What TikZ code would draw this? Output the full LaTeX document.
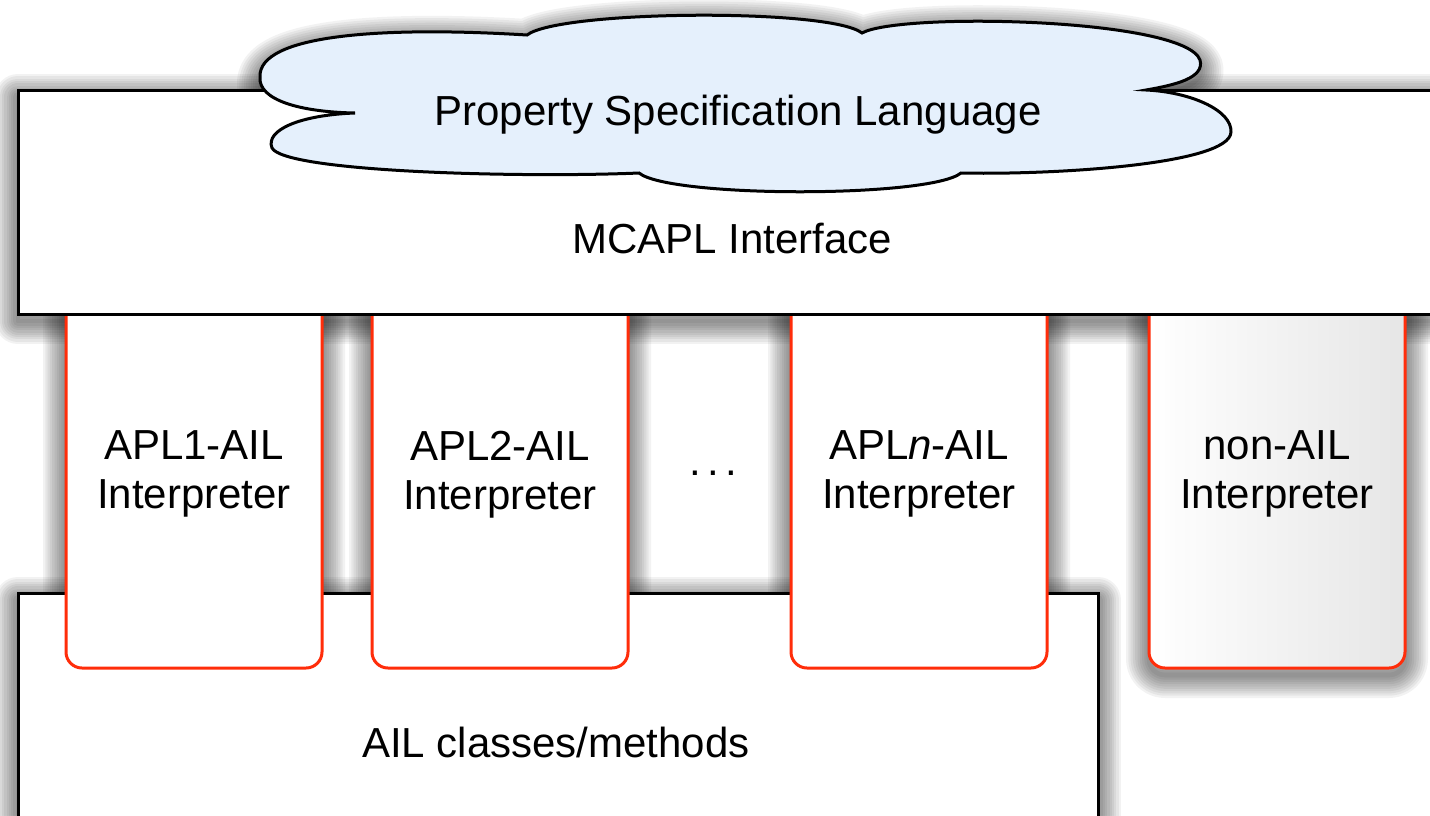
\documentclass[tikz,border=0pt]{standalone}
\usepackage{fontspec}
\setmainfont{Liberation Sans}
\definecolor{interpred}{RGB}{255,45,10}
\definecolor{cloudfill}{RGB}{229,240,252}
\definecolor{shadegray}{RGB}{230,230,230}
\pgfdeclarelayer{paper}
\pgfdeclarelayer{shadows}
\pgfsetlayers{paper,shadows,main}
% outline of the cloud, used for its shadow and for the cloud itself
\def\cloudoutline{%
  (527,35) .. controls (560,10) and (830,8) .. (862,33)
  .. controls (900,12) and (1185,18) .. (1200,60)
  .. controls (1205,78) and (1175,85) .. (1146,90)
  .. controls (1190,92) and (1232,110) .. (1231,132)
  .. controls (1230,165) and (1050,175) .. (961,173)
  .. controls (930,198) and (670,198) .. (639,173)
  .. controls (520,178) and (285,172) .. (272,148)
  .. controls (265,130) and (300,115) .. (355,113)
  .. controls (300,112) and (258,100) .. (260,77)
  .. controls (258,35) and (380,26) .. (527,35) -- cycle}
\begin{document}
\begin{tikzpicture}[x=1pt,y=-1pt,
  every node/.style={inner sep=0pt, outer sep=0pt},
  txt/.style={font=\fontsize{42}{49}\selectfont, text=black},
  shadowstep/.style={draw=black, draw opacity=0.05, line join=round,
      line width=#1},
  layer/.style={draw=black, line width=3pt, fill=white, anchor=north west},
  interp/.style={draw=interpred, line width=3pt, fill=white, rounded corners=16pt,
      minimum width=256pt, minimum height=378pt, anchor=north west}]

% page frame
\useasboundingbox (0,0) rectangle (1430,815);
\begin{pgfonlayer}{paper}
  \fill[white] (0,0) rectangle (1430,815);
\end{pgfonlayer}

% bottom layer
\node[layer, minimum width=1080pt, minimum height=260pt] (ail) at (18,593) {};

% interpreter columns
\node[interp] (i1) at (66,290) {};
\node[interp] (i2) at (372,290) {};
\node[interp] (i3) at (791,290) {};
\node[interp, left color=white, right color=shadegray] (i4) at (1149,290) {};

% top layer
\node[layer, minimum width=1440pt, minimum height=224pt] (mcapl) at (18,90) {};

% property specification cloud
\path[draw=black, line width=3pt, fill=cloudfill] \cloudoutline;

% soft drop shadows, built from widening translucent outlines beneath the shapes
\begin{pgfonlayer}{shadows}
  \foreach \k in {1,...,10}{
    \path[shadowstep=\k*4.6pt] ([yshift=-7pt]ail.north west) rectangle ([yshift=-7pt]ail.south east);
    \foreach \b in {i1,i2,i3,i4}
      \path[shadowstep=\k*4.6pt, rounded corners=16pt]
        ([yshift=-7pt]\b.north west) rectangle ([yshift=-7pt]\b.south east);
    \path[shadowstep=\k*4.6pt] ([yshift=-7pt]mcapl.north west) rectangle ([yshift=-7pt]mcapl.south east);
    \begin{scope}[yshift=-7pt]
      \path[shadowstep=\k*4.6pt] \cloudoutline;
    \end{scope}
  }
\end{pgfonlayer}

% texts
\node[txt, anchor=base] (psl) at (738,125) {Property Specification Language};
\node[txt, anchor=base] (mcapltxt) at (732,253) {MCAPL Interface};
\node[txt, anchor=north, align=center] (t1) at (194,431) {APL1-AIL\\Interpreter};
\node[txt, anchor=north, align=center] (t2) at (500,431) {APL2-AIL\\Interpreter};
\node[txt, anchor=north, align=center] (t3) at (919,431) {APL\textit{n}-AIL\\Interpreter};
\node[txt, anchor=north, align=center] (t4) at (1277,431) {non-AIL\\Interpreter};
\node[txt, anchor=base] (dots) at (713,475) {.\hspace{6.3pt}.\hspace{6.3pt}.};
\node[txt, anchor=base] (ailtxt) at (556,757) {AIL classes/methods};
\end{tikzpicture}
\end{document}
